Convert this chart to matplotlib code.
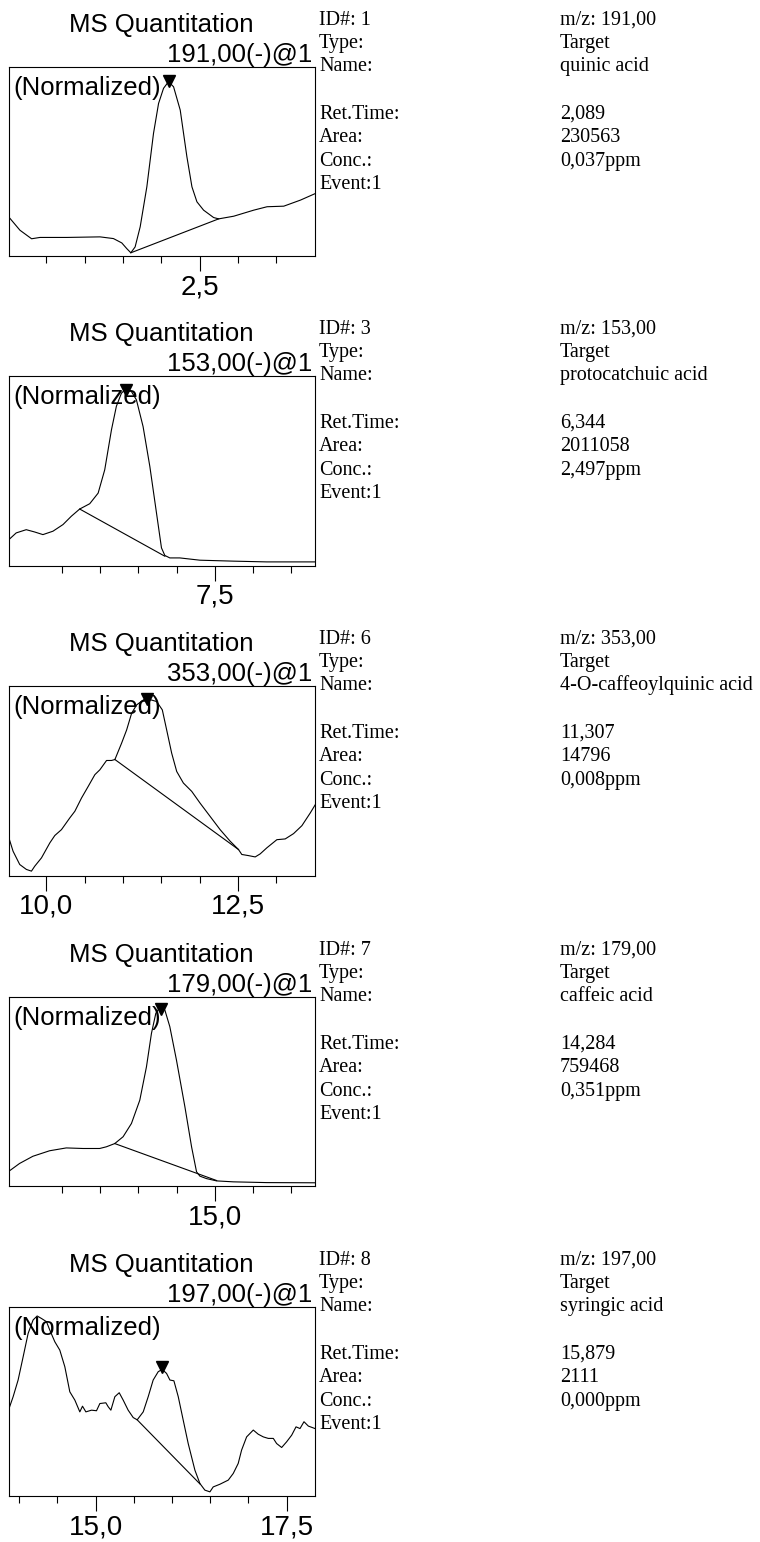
import matplotlib
matplotlib.use("Agg")
import matplotlib.pyplot as plt
from matplotlib.ticker import FixedLocator, FuncFormatter

# ---------------- data ----------------
mz_labels = ["191,00(-)@1", "153,00(-)@1", "353,00(-)@1", "179,00(-)@1", "197,00(-)@1"]
ids = ["1", "3", "6", "7", "8"]
mz_values = ["191,00", "153,00", "353,00", "179,00", "197,00"]
names = ["quinic acid", "protocatchuic acid", "4-O-caffeoylquinic acid", "caffeic acid", "syringic acid"]
ret_times = ["2,089", "6,344", "11,307", "14,284", "15,879"]
areas = ["230563", "2011058", "14796", "759468", "2111"]
concs = ["0,037ppm", "2,497ppm", "0,008ppm", "0,351ppm", "0,000ppm"]

x_ranges = [(0.007, 4.007), (4.807, 8.807), (9.507, 13.507), (12.307, 16.307), (13.865, 17.87)]
major_ticks = [[2.5], [7.5], [10.0, 12.5], [15.0], [15.0, 17.5]]
minor_ticks = [[0.5, 1.0, 1.5, 2.0, 3.0, 3.5],
               [5.5, 6.0, 6.5, 7.0, 8.0, 8.5],
               [10.5, 11.0, 11.5, 12.0, 13.0],
               [13.0, 13.5, 14.0, 14.5, 15.5, 16.0],
               [14.0, 14.5, 15.5, 16.0, 16.5, 17.0]]

t1 = [0.006, 0.154, 0.306, 0.415, 0.764, 1.2, 1.375, 1.484, 1.549, 1.602, 1.658, 1.724, 1.811,
      1.898, 1.964, 2.029, 2.094, 2.16, 2.247, 2.334, 2.4, 2.465, 2.552, 2.683, 2.749, 2.945,
      3.207, 3.381, 3.599, 3.817, 4.013]
y1 = [20.8, 13.7, 9.2, 9.9, 9.9, 10.2, 9.3, 7.0, 4.0, 1.8, 4.9, 15.5, 36.6,
      64.8, 80.6, 88.6, 92.1, 89.4, 77.1, 52.5, 36.6, 28.7, 24.3, 20.4, 19.7, 21.1,
      24.3, 26.1, 26.4, 29.6, 33.1]

t2 = [4.80, 4.905, 5.036, 5.145, 5.254, 5.385, 5.516, 5.625, 5.734, 5.865, 5.975, 6.061, 6.149,
      6.213, 6.279, 6.344, 6.41, 6.475, 6.562, 6.65, 6.737, 6.802, 6.846, 6.911, 7.042, 7.304,
      7.74, 8.176, 8.808]
y2 = [13.3, 17.2, 18.9, 17.7, 16.3, 18.1, 21.6, 26.0, 29.8, 32.6, 38.2, 50.5, 71.6,
      84.0, 90.9, 93.5, 91.8, 87.4, 73.3, 52.3, 27.7, 9.3, 5.3, 4.0, 4.0, 2.8,
      2.3, 1.9, 1.9]

t3 = [9.503, 9.564, 9.651, 9.738, 9.804, 9.847, 9.935, 10.044, 10.109, 10.196, 10.305, 10.371,
      10.458, 10.545, 10.632, 10.698, 10.785, 10.85, 10.894, 10.981, 11.047, 11.112, 11.177,
      11.295, 11.439, 11.513, 11.57, 11.635, 11.701, 11.788, 11.897, 12.006, 12.137, 12.268,
      12.399, 12.508, 12.551, 12.638, 12.726, 12.791, 12.878, 13.009, 13.118, 13.227, 13.336,
      13.445, 13.511]
y3 = [20.7, 12.8, 5.8, 3.2, 2.3, 4.9, 9.3, 17.2, 21.1, 24.2, 30.4, 33.9,
      40.9, 47.0, 53.2, 55.8, 60.7, 60.7, 61.2, 69.8, 76.8, 85.6, 90.0,
      93.5, 91.8, 87.4, 76.8, 64.6, 54.9, 48.8, 44.4, 38.2, 31.2, 24.2,
      18.1, 13.7, 11.1, 10.5, 9.8, 11.4, 14.6, 18.9, 19.3, 22.1, 26.3,
      33.0, 37.4]

t4 = [12.30, 12.449, 12.623, 12.841, 13.059, 13.277, 13.495, 13.583, 13.692, 13.801, 13.91,
      14.019, 14.106, 14.171, 14.228, 14.28, 14.346, 14.411, 14.498, 14.608, 14.695, 14.76,
      14.804, 14.891, 15.022, 15.24, 15.676, 16.308]
y4 = [7.6, 12.0, 15.8, 18.7, 20.2, 19.9, 19.9, 20.8, 22.5, 26.1, 33.1,
      45.4, 63.0, 80.6, 91.2, 94.4, 93.0, 84.2, 66.5, 41.9, 20.8, 7.6,
      5.3, 4.0, 2.8, 2.3, 1.9, 1.8]

t5 = [13.862, 13.923, 13.988, 14.054, 14.119, 14.184, 14.237, 14.293, 14.359, 14.402, 14.468,
      14.533, 14.599, 14.664, 14.73, 14.795, 14.83, 14.874, 14.948, 15.013, 15.057, 15.135,
      15.166, 15.201, 15.253, 15.31, 15.362, 15.427, 15.493, 15.545, 15.624, 15.689, 15.754,
      15.82, 15.872, 15.929, 15.973, 16.025, 16.082, 16.147, 16.212, 16.3, 16.365, 16.43,
      16.496, 16.539, 16.626, 16.736, 16.801, 16.866, 16.91, 16.976, 17.063, 17.128, 17.194,
      17.259, 17.325, 17.368, 17.434, 17.499, 17.565, 17.622, 17.674, 17.726, 17.783, 17.87]
y5 = [45.4, 52.5, 61.3, 73.6, 85.9, 93.0, 95.1, 93.8, 92.1, 87.7, 81.5,
      77.1, 68.3, 55.1, 50.7, 44.5, 47.5, 44.5, 45.4, 45.1, 48.9, 49.3,
      47.2, 45.4, 52.5, 54.6, 50.7, 45.4, 41.5, 40.3, 44.5, 52.5, 61.3,
      65.7, 66.9, 64.8, 61.3, 60.9, 52.5, 40.1, 27.8, 13.7, 6.7, 3.2,
      2.3, 4.9, 6.3, 8.5, 12.0, 17.3, 24.3, 31.3, 34.9, 32.7, 31.3,
      30.5, 30.5, 27.8, 25.7, 28.7, 32.2, 36.6, 35.7, 39.3, 37.0, 35.7]

times = [t1, t2, t3, t4, t5]
intens = [y1, y2, y3, y4, y5]

# integration baselines: (start_t, end_t) and (start_y, end_y)
base_t = [(1.602, 2.749), (5.734, 6.846), (10.894, 12.508), (13.692, 15.022), (15.545, 16.365)]
base_y = [(1.8, 19.7), (29.8, 4.9), (61.2, 13.7), (22.5, 3.0), (40.3, 6.5)]

# peak marker
peak_t = [2.094, 6.344, 11.308, 14.29, 15.872]
peak_y = [92.4, 92.5, 93.0, 93.5, 68.3]

# ---------------- layout ----------------
W, H = 760, 1542
fig = plt.figure(figsize=(W / 100, H / 100), dpi=100)

def fx(x):
    return x / W

def fy(y):
    return 1 - y / H

box_left, box_right, box_h = 8.7, 315.0, 189.5
tops = [66.7, 376.0, 686.0, 996.7, 1306.7]

sans = ["Liberation Sans", "DejaVu Sans"]
serif = ["Liberation Serif", "DejaVu Serif"]

fmt = FuncFormatter(lambda v, p: f"{v:.1f}".replace(".", ","))

for i in range(5):
    T = tops[i]
    ax = fig.add_axes([fx(box_left), fy(T + box_h), (box_right - box_left) / W, box_h / H])
    ax.plot(times[i], intens[i], color="black", lw=0.8)
    ax.plot(base_t[i], base_y[i], color="black", lw=0.8)
    ax.plot([peak_t[i]], [peak_y[i]], marker="v", color="black", ms=8, ls="none")
    ax.set_xlim(*x_ranges[i])
    ax.set_ylim(0, 100)
    ax.set_yticks([])
    ax.xaxis.set_major_locator(FixedLocator(major_ticks[i]))
    ax.xaxis.set_minor_locator(FixedLocator(minor_ticks[i]))
    ax.xaxis.set_major_formatter(fmt)
    ax.tick_params(axis="x", which="major", length=10.8, width=0.8, direction="out",
                   pad=2.5, labelsize=20)
    ax.tick_params(axis="x", which="minor", length=5.3, width=0.8, direction="out")
    for lab in ax.get_xticklabels():
        lab.set_family(sans)
    for s in ax.spines.values():
        s.set_linewidth(0.8)
        s.set_color("black")
    ax.text(0.015, 1 - 28 / box_h, "(Normalized)", transform=ax.transAxes,
            ha="left", va="baseline", fontsize=18.5, family=sans)

    fig.text(fx(161), fy(T - 35), "MS Quantitation", ha="center", va="baseline",
             fontsize=18.5, family=sans)
    fig.text(fx(312), fy(T - 5), mz_labels[i], ha="right", va="baseline",
             fontsize=18.5, family=sans)

    left_lines = [("ID#: " + ids[i], -42), ("Type:", -19), ("Name:", 4),
                  ("Ret.Time:", 52), ("Area:", 75), ("Conc.:", 99), ("Event:1", 122)]
    right_lines = [("m/z: " + mz_values[i], -42), ("Target", -19), (names[i], 4),
                   (ret_times[i], 52), (areas[i], 75), (concs[i], 99)]
    for txt, dy in left_lines:
        fig.text(fx(319), fy(T + dy), txt, ha="left", va="baseline", fontsize=14.5, family=serif)
    for txt, dy in right_lines:
        fig.text(fx(560), fy(T + dy), txt, ha="left", va="baseline", fontsize=14.5, family=serif)

fig.savefig("out.png", dpi=100, facecolor="white")
